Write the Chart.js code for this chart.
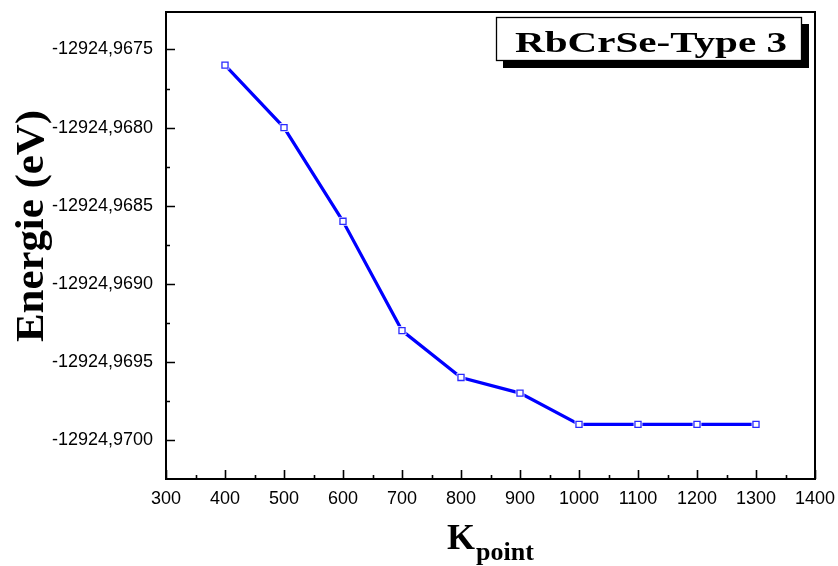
<!DOCTYPE html>
<html>
<head>
<meta charset="utf-8">
<script src="https://cdn.jsdelivr.net/npm/chart.js@4.4.0/dist/chart.umd.min.js"></script>
<style>
  html, body { margin: 0; padding: 0; background: #fff; }
</style>
</head>
<body>
<canvas id="kpointChart" width="838" height="566"></canvas>
<script>
const kPoints = [400, 500, 600, 700, 800, 900, 1000, 1100, 1200, 1300];
const energies = [-12924.9676, -12924.9680, -12924.9686, -12924.9693, -12924.9696,
                  -12924.9697, -12924.9699, -12924.9699, -12924.9699, -12924.9699];
const xTicks = [300, 400, 500, 600, 700, 800, 900, 1000, 1100, 1200, 1300, 1400];
const yTicks = [-12924.9675, -12924.9680, -12924.9685, -12924.9690, -12924.9695, -12924.9700];
const chartTitle = "RbCrSe-Type 3";
const yTitle = "Energie (eV)";
const xTitle = "K";
const xTitleSub = "point";

// major ticks plus a minor one half way between
function withMinor(list) {
  const out = [];
  list.forEach((v, i) => {
    out.push({ value: v, major: true });
    if (i < list.length - 1) out.push({ value: (v + list[i + 1]) / 2, major: false });
  });
  return out;
}

const points = kPoints.map((k, i) => ({ x: k, y: energies[i] }));

// inward tick marks, top/right frame, titles
const frame = {
  id: "frame",
  afterDraw(chart) {
    const ctx = chart.ctx;
    const a = chart.chartArea;
    const xs = chart.scales.x, ys = chart.scales.y;
    ctx.save();
    ctx.strokeStyle = "#000";
    ctx.lineWidth = 2;
    ctx.beginPath();
    ctx.moveTo(a.left, a.top); ctx.lineTo(a.right, a.top); ctx.lineTo(a.right, a.bottom);
    ctx.stroke();
    ctx.lineWidth = 1.6;
    ctx.beginPath();
    xs.ticks.forEach(t => {
      const px = Math.round(xs.getPixelForValue(t.value)) + 0.5;
      ctx.moveTo(px, a.bottom); ctx.lineTo(px, a.bottom - (t.major ? 9 : 4));
    });
    ys.ticks.forEach(t => {
      const py = Math.round(ys.getPixelForValue(t.value)) + 0.5;
      ctx.moveTo(a.left, py); ctx.lineTo(a.left + (t.major ? 9 : 4), py);
    });
    ctx.stroke();

    // title box with shadow
    ctx.fillStyle = "#000";
    ctx.fillRect(503, 24, 306, 44);
    ctx.fillStyle = "#fff";
    ctx.fillRect(496, 17, 306, 44);
    ctx.lineWidth = 1.3;
    ctx.strokeRect(496.5, 17.5, 305, 43);
    ctx.fillStyle = "#000";
    ctx.font = "bold 30px 'Liberation Serif', 'Times New Roman', serif";
    ctx.textAlign = "center";
    ctx.textBaseline = "alphabetic";
    let w = ctx.measureText(chartTitle).width;
    ctx.save();
    ctx.translate(651, 51.5);
    ctx.scale(272 / w, 1);
    ctx.fillText(chartTitle, 0, 0);
    ctx.restore();

    // y title
    ctx.font = "bold 40px 'Liberation Serif', 'Times New Roman', serif";
    w = ctx.measureText(yTitle).width;
    ctx.save();
    ctx.translate(43, 226);
    ctx.rotate(-Math.PI / 2);
    ctx.scale(232 / w, 1);
    ctx.fillText(yTitle, 0, 0);
    ctx.restore();

    // x title with subscript
    ctx.textAlign = "left";
    ctx.font = "bold 36px 'Liberation Serif', 'Times New Roman', serif";
    ctx.fillText(xTitle, 447, 549);
    ctx.font = "bold 26px 'Liberation Serif', 'Times New Roman', serif";
    ctx.fillText(xTitleSub, 476, 560);
    ctx.restore();
  }
};

const tickFont = { family: "'Liberation Sans', Arial, sans-serif", size: 18 };

new Chart(document.getElementById("kpointChart").getContext("2d"), {
  type: "line",
  data: {
    datasets: [
      {
        data: points,
        showLine: false,
        pointStyle: "rect",
        pointRadius: 4.3,
        pointBorderWidth: 1.3,
        pointBorderColor: "#2a2aff",
        pointBackgroundColor: "#fff",
        order: 1,
      },
      {
        data: points,
        showLine: false,
        pointStyle: "rect",
        pointRadius: 6.2,
        pointBorderWidth: 0,
        pointBackgroundColor: "#fff",
        order: 2,
      },
      {
        data: points,
        borderColor: "#0000ff",
        borderWidth: 3.2,
        pointRadius: 0,
        tension: 0,
        fill: false,
        order: 3,
      },
    ],
  },
  options: {
    responsive: false,
    animation: false,
    devicePixelRatio: 1,
    layout: { padding: { top: 12, right: 23, left: 0, bottom: 0 } },
    plugins: {
      legend: { display: false },
      tooltip: { enabled: false },
      title: { display: false },
    },
    scales: {
      x: {
        type: "linear",
        min: 300,
        max: 1400,
        grid: { display: false, drawTicks: false },
        border: { display: true, color: "#000", width: 2 },
        afterBuildTicks: (s) => { s.ticks = withMinor(xTicks); },
        afterFit: (s) => { s.height = 87; s.paddingLeft = 0; s.paddingRight = 0; },
        ticks: {
          color: "#000",
          font: tickFont,
          padding: 9,
          maxRotation: 0,
          autoSkip: false,
          callback: (v, i, ticks) => (ticks[i].major ? String(v) : ""),
        },
      },
      y: {
        type: "linear",
        min: -12924.97025,
        max: -12924.96726,
        grid: { display: false, drawTicks: false },
        border: { display: true, color: "#000", width: 2 },
        afterBuildTicks: (s) => { s.ticks = withMinor(yTicks); },
        afterFit: (s) => { s.width = 166; s.paddingTop = 0; s.paddingBottom = 0; },
        ticks: {
          color: "#000",
          font: tickFont,
          padding: 13,
          autoSkip: false,
          callback: (v, i, ticks) => (ticks[i].major ? v.toFixed(4).replace(".", ",") : ""),
        },
      },
    },
  },
  plugins: [frame],
});
</script>
</body>
</html>
